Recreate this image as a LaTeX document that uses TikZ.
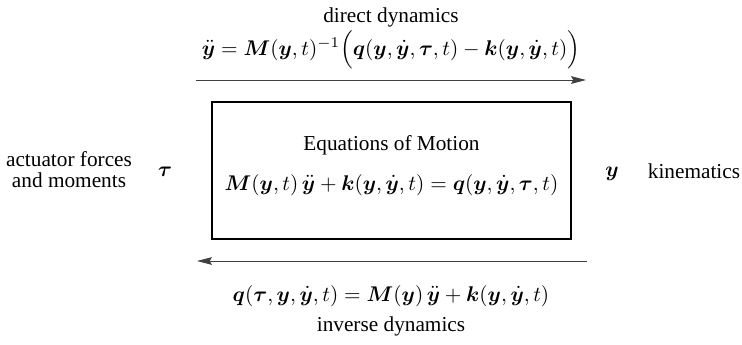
\documentclass[tikz,border=0pt]{standalone}
\usepackage{amsmath}
\usepackage{bm}
\usepackage[no-math]{fontspec}
\setmainfont{Liberation Serif}
\usetikzlibrary{arrows.meta,positioning}
\tikzset{
  eombox/.style={draw, line width=0.8pt, minimum width=168.7pt, minimum height=64.4pt, inner sep=0pt},
  txt/.style={anchor=base, inner sep=0pt, font=\normalsize},
  dynflow/.style={-{Stealth[length=7pt, width=3.6pt, inset=1pt]}, line width=0.45pt, black!75}
}
\begin{document}
\begin{tikzpicture}[x=0.47pt, y=-0.47pt]
  \useasboundingbox (0,0) rectangle (742,344);
  % block with the equations of motion
  \node[eombox] (eom) at (391.5,170.5) {};
  \node[txt] (eomtitle) at (391.5,150) {Equations of Motion};
  \node[txt] (eomeq) at (391.5,190) {$\bm{M}(\bm{y},t)\,\ddot{\bm{y}} + \bm{k}(\bm{y},\dot{\bm{y}},t) = \bm{q}(\bm{y},\dot{\bm{y}},\bm{\tau},t)$};
  % direct dynamics
  \coordinate (dirstart) at (196,80);
  \coordinate (dirend) at (586,80);
  \draw[dynflow] (dirstart) -- (dirend);
  \node[txt] (direq) at (391,55) {$\ddot{\bm{y}} = \bm{M}(\bm{y},t)^{-1}\Bigl(\bm{q}(\bm{y},\dot{\bm{y}},\bm{\tau},t) - \bm{k}(\bm{y},\dot{\bm{y}},t)\Bigr)$};
  \node[txt] (dirlabel) at (391,22) {direct dynamics};
  % inverse dynamics
  \coordinate (invstart) at (587,261);
  \coordinate (invend) at (197,261);
  \draw[dynflow] (invstart) -- (invend);
  \node[txt] (inveq) at (391,301) {$\bm{q}(\bm{\tau},\bm{y},\dot{\bm{y}},t) = \bm{M}(\bm{y})\,\ddot{\bm{y}} + \bm{k}(\bm{y},\dot{\bm{y}},t)$};
  \node[txt] (invlabel) at (391,331) {inverse dynamics};
  % inputs and outputs
  \node[txt] (tau) at (165,176.5) {$\bm{\tau}$};
  \node[txt, align=center] (forces) at (69,187) {actuator forces\\[-2.5pt]and moments};
  \node[txt] (ys) at (612,176) {$\bm{y}$};
  \node[txt] (kin) at (694,178) {kinematics};
\end{tikzpicture}
\end{document}
